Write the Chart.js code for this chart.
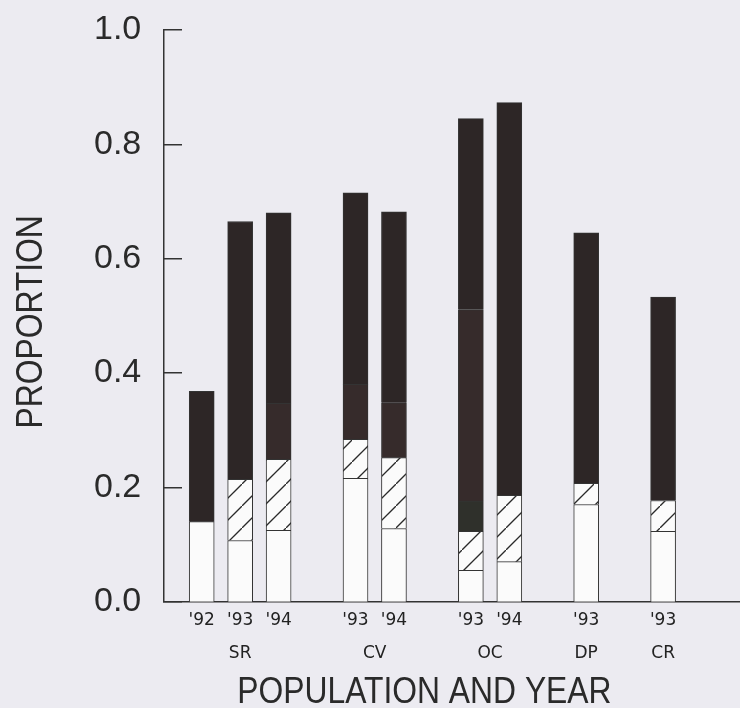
<!DOCTYPE html>
<html lang="en">
<head>
  <meta charset="UTF-8" />
  <title>Proportion by population and year</title>
  <script src="https://cdn.jsdelivr.net/npm/chart.js"></script>
  <style>
    html, body {
      margin: 0;
      padding: 0;
      background: #ecebf1;
    }
    .chart-box {
      position: relative;
      width: 740px;
      height: 708px;
    }
  </style>
</head>
<body>

<div class="chart-box">
  <canvas id="propChart" role="img" aria-label="Stacked proportion bars by population and year"></canvas>
</div>

<script>
  // one entry per bar, left to right
  const groups = ['SR', 'CV', 'OC', 'DP', 'CR'];
  const barGroup = [0, 0, 0, 1, 1, 2, 2, 3, 4];
  const barYear = ["'92", "'93", "'94", "'93", "'94", "'93", "'94", "'93", "'93"];

  // segment heights, bottom to top
  const openPart    = [0.140, 0.107, 0.125, 0.216, 0.128, 0.055, 0.070, 0.170, 0.123];
  const hatchedPart = [0, 0.107, 0.124, 0.068, 0.124, 0.068, 0.116, 0.037, 0.054];
  const darkLowPart = [0, 0, 0, 0, 0, 0.053, 0, 0, 0];
  const darkMidPart = [0, 0, 0.098, 0.096, 0.096, 0.335, 0, 0, 0];
  const darkTopPart = [0.228, 0.451, 0.333, 0.335, 0.334, 0.334, 0.687, 0.438, 0.356];

  const yTicks = [0, 0.2, 0.4, 0.6, 0.8, 1.0];
  const yTitle = 'PROPORTION';
  const xTitle = 'POPULATION AND YEAR';

  // bars sit side by side inside a group, one empty slot between groups
  const slots = barGroup.map((g, i) => i + g);
  const groupCenter = groups.map((_, g) => {
    const s = slots.filter((_, i) => barGroup[i] === g);
    return s.reduce((a, b) => a + b, 0) / s.length;
  });

  const edge = '#333';
  const ink = '#2a2a2a';

  function hatch() {
    const c = document.createElement('canvas');
    c.width = 22;
    c.height = 22;
    const g = c.getContext('2d');
    g.fillStyle = '#fbfbfb';
    g.fillRect(0, 0, 22, 22);
    g.strokeStyle = ink;
    g.lineWidth = 1.3;
    g.beginPath();
    g.moveTo(-2, 24);
    g.lineTo(24, -2);
    g.stroke();
    return g.createPattern(c, 'repeat');
  }

  function part(values, fill) {
    return {
      data: values.map((v, i) => ({ x: slots[i], y: v || null })),
      backgroundColor: fill,
      borderColor: edge,
      borderWidth: 1,
      barThickness: 25
    };
  }

  // labels under the axis: year on line one, population on line two
  const labelAt = {};
  slots.forEach((s, i) => { labelAt[s] = [barYear[i], '']; });
  groupCenter.forEach((c, g) => {
    if (labelAt[c]) labelAt[c][1] = groups[g];
    else labelAt[c] = ['', groups[g]];
  });

  // the axis titles in the original are set in a narrow face
  const axisTitles = {
    id: 'axisTitles',
    afterDraw(chart) {
      const { ctx, chartArea, scales: { x } } = chart;
      const squeeze = 0.86;
      ctx.save();
      ctx.font = '37px "Liberation Sans", sans-serif';
      ctx.fillStyle = ink;
      ctx.textAlign = 'center';
      ctx.textBaseline = 'alphabetic';

      const mid = (x.getPixelForValue(slots[0]) + x.getPixelForValue(slots[slots.length - 1])) / 2;
      ctx.save();
      ctx.translate(mid - 8, 703);
      ctx.scale(squeeze, 1);
      ctx.fillText(xTitle, 0, 0);
      ctx.restore();

      ctx.save();
      ctx.translate(42, (chartArea.top + chartArea.bottom) / 2 + 6);
      ctx.rotate(-Math.PI / 2);
      ctx.scale(squeeze, 1);
      ctx.fillText(yTitle, 0, 0);
      ctx.restore();

      ctx.restore();
    }
  };

  new Chart(document.getElementById('propChart'), {
    type: 'bar',
    data: {
      datasets: [
        part(openPart, '#fbfbfb'),
        part(hatchedPart, hatch()),
        part(darkLowPart, '#2f302b'),
        part(darkMidPart, '#362b2b'),
        part(darkTopPart, '#2d2626')
      ]
    },
    plugins: [axisTitles],
    options: {
      responsive: true,
      maintainAspectRatio: false,
      animation: false,
      layout: { padding: { top: 30, right: 0, bottom: 36, left: 72 } },
      plugins: {
        legend: { display: false },
        tooltip: { enabled: false }
      },
      scales: {
        x: {
          type: 'linear',
          stacked: true,
          offset: false,
          min: -1,
          max: 14,
          afterBuildTicks: (scale) => {
            scale.ticks = Object.keys(labelAt).map(Number).sort((a, b) => a - b).map(v => ({ value: v }));
          },
          ticks: {
            autoSkip: false,
            maxRotation: 0,
            padding: 2,
            color: '#222',
            font: { family: 'DejaVu Sans', size: 17, lineHeight: 1.95 },
            callback: (v) => labelAt[v] || ''
          },
          grid: { display: false, drawTicks: false },
          border: { display: true, color: edge, width: 1.5 }
        },
        y: {
          stacked: true,
          min: 0,
          max: 1,
          afterBuildTicks: (scale) => {
            scale.ticks = yTicks.map(v => ({ value: v }));
          },
          ticks: {
            padding: 22,
            color: ink,
            font: { family: 'Liberation Sans', size: 34, lineHeight: 0.4 },
            callback: (v) => v.toFixed(1)
          },
          grid: { display: false, drawTicks: false },
          border: { display: true, color: edge, width: 1.5 }
        },
        // tick marks pointing into the plot
        yMarks: {
          axis: 'y',
          position: { x: -1 },
          min: 0,
          max: 1,
          afterBuildTicks: (scale) => {
            scale.ticks = yTicks.map(v => ({ value: v }));
          },
          ticks: { display: false },
          grid: {
            drawOnChartArea: false,
            drawTicks: true,
            tickLength: -19,
            color: edge,
            lineWidth: 1.5
          },
          border: { display: false }
        }
      }
    }
  });
</script>

</body>
</html>
